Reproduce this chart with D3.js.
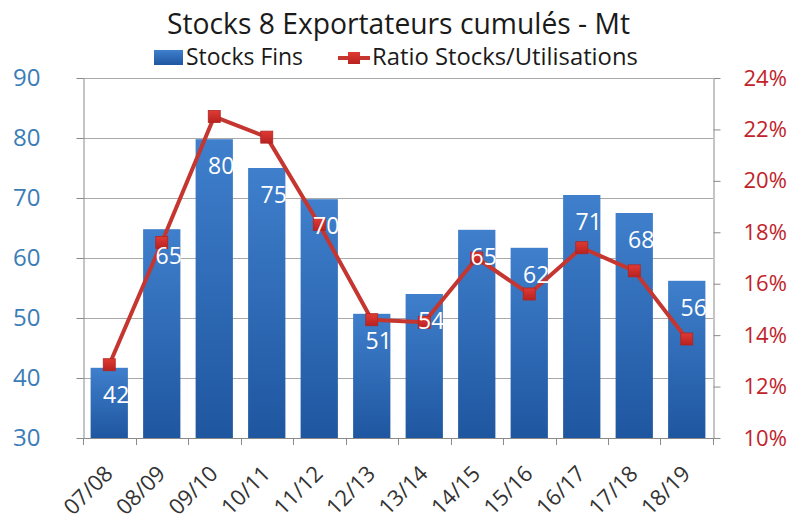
<!DOCTYPE html>
<html><head><meta charset="utf-8">
<script src="https://cdn.jsdelivr.net/npm/d3@7/dist/d3.min.js"></script>
<style>
html,body{margin:0;padding:0;background:#fff;}
svg text{font-family:"Open Sans",sans-serif;}
</style></head>
<body><svg id="c" width="795" height="520"></svg>
<script>
const categories = ["07/08","08/09","09/10","10/11","11/12","12/13","13/14","14/15","15/16","16/17","17/18","18/19"];
const stocksFins = [41.7, 64.8, 79.8, 75.0, 69.8, 50.7, 54.0, 64.7, 61.7, 70.5, 67.5, 56.2];
const ratio = [12.85, 17.6, 22.5, 21.7, 18.3, 14.6, 14.5, 17.0, 15.6, 17.4, 16.5, 13.85];
const leftTicks = [30,40,50,60,70,80,90];
const rightTicks = [10,12,14,16,18,20,22,24];
const title = "Stocks 8 Exportateurs cumulés - Mt";
const legendLabels = ["Stocks Fins","Ratio Stocks/Utilisations"];

const svg = d3.select("#c");
const L = 83, R = 713, T = 78, B = 438;

const x = d3.scaleBand().domain(categories).range([L, R]).paddingInner(0.29).paddingOuter(0.145);
const xb = d3.scaleLinear().domain([0, categories.length]).range([L, R]);
const yL = d3.scaleLinear().domain([30, 90]).range([B, T]);
const yR = d3.scaleLinear().domain([10, 24]).range([B, T]);

const defs = svg.append("defs");
const g1 = defs.append("linearGradient").attr("id","barg").attr("x1",0).attr("y1",0).attr("x2",0).attr("y2",1);
g1.append("stop").attr("offset","0%").attr("stop-color","#3f7fcc");
g1.append("stop").attr("offset","100%").attr("stop-color","#1f56a0");
const g2 = defs.append("linearGradient").attr("id","mkg").attr("x1",0).attr("y1",0).attr("x2",0).attr("y2",1);
g2.append("stop").attr("offset","0%").attr("stop-color","#e03a34");
g2.append("stop").attr("offset","100%").attr("stop-color","#b82220");

// gridlines
svg.append("g").selectAll("line").data(leftTicks.filter(t => t > 30)).join("line")
  .attr("x1", L).attr("x2", R).attr("y1", d => yL(d)+0.5).attr("y2", d => yL(d)+0.5)
  .attr("stroke", "#a9a9a9").attr("stroke-width", 1);

// bars
svg.append("g").selectAll("rect").data(stocksFins).join("rect")
  .attr("x", (d,i) => x(categories[i])).attr("width", x.bandwidth())
  .attr("y", d => yL(d)).attr("height", d => B - yL(d))
  .attr("fill", "url(#barg)");

// axes (left)
const axL = svg.append("g").attr("transform", `translate(${L+0.5},0)`)
  .call(d3.axisLeft(yL).tickValues(leftTicks).tickSize(7).tickPadding(36).tickSizeOuter(0));
axL.select(".domain").attr("stroke", "#8a8a8a");
axL.selectAll(".tick line").attr("stroke", "#8a8a8a");
axL.selectAll(".tick text").attr("fill", "#3a7db6").style("font-size","24px").attr("font-family","Open Sans");

const axR = svg.append("g").attr("transform", `translate(${R+0.5},0)`)
  .call(d3.axisRight(yR).tickValues(rightTicks).tickSize(7).tickPadding(23).tickSizeOuter(0).tickFormat(d => d + "%"));
axR.select(".domain").attr("stroke", "#8a8a8a");
axR.selectAll(".tick line").attr("stroke", "#8a8a8a");
axR.selectAll(".tick text").attr("fill", "#c1232b").style("font-size","22px").attr("font-family","Open Sans");

// bottom axis line and ticks at band boundaries
svg.append("line").attr("x1", L).attr("x2", R+1).attr("y1", B+0.5).attr("y2", B+0.5).attr("stroke", "#8a8a8a");
svg.append("g").selectAll("line").data(d3.range(categories.length + 1)).join("line")
  .attr("x1", d => Math.round(xb(d))+0.5).attr("x2", d => Math.round(xb(d))+0.5)
  .attr("y1", B).attr("y2", B + 7).attr("stroke", "#8a8a8a");

// x labels
svg.append("g").selectAll("text").data(categories).join("text")
  .attr("transform", d => `translate(${x(d) + x.bandwidth()/2 + 5},${B + 37}) rotate(-45)`)
  .attr("text-anchor", "end")
  .attr("fill", "#333333").style("font-size", "22px")
  .text(d => d);

// line
const line = d3.line().x((d,i) => x(categories[i]) + x.bandwidth()/2).y(d => yR(d));
svg.append("path").datum(ratio).attr("d", line)
  .attr("fill", "none").attr("stroke", "#c4362f").attr("stroke-width", 4).attr("stroke-linejoin","round");
svg.append("g").selectAll("rect").data(ratio).join("rect")
  .attr("x", (d,i) => x(categories[i]) + x.bandwidth()/2 - 6).attr("y", d => yR(d) - 6)
  .attr("width", 12).attr("height", 12).attr("fill", "url(#mkg)").attr("stroke","#b02420").attr("stroke-width",0.8);

// data labels
svg.append("g").selectAll("text").data(stocksFins).join("text")
  .attr("x", (d,i) => x(categories[i]) + x.bandwidth()/2 + 7)
  .attr("y", d => yL(d) + 35)
  .attr("text-anchor", "middle").attr("fill", "#ffffff").style("font-size", "23px")
  .text(d => d3.format(".0f")(d));

// title
function fit(sel, w) {
  const len = sel.node().getComputedTextLength();
  const fs = parseFloat(sel.style("font-size"));
  sel.style("font-size", (fs * w / len) + "px");
}
const tt = svg.append("text").attr("x", 398.5).attr("y", 34).attr("text-anchor", "middle")
  .attr("fill", "#1a1a1a").style("font-size", "26px").text(title);
fit(tt, 463);

// legend
const lg = svg.append("g");
lg.append("rect").attr("x", 154).attr("y", 50).attr("width", 29).attr("height", 15).attr("fill", "url(#barg)");
const t1 = lg.append("text").attr("x", 186).attr("y", 65).attr("fill", "#1a1a1a").style("font-size", "20px").text(legendLabels[0]);
fit(t1, 117);
lg.append("line").attr("x1", 338).attr("x2", 370).attr("y1", 58).attr("y2", 58).attr("stroke", "#c4362f").attr("stroke-width", 4);
lg.append("rect").attr("x", 348).attr("y", 52).attr("width", 12).attr("height", 12).attr("fill", "url(#mkg)");
const t2 = lg.append("text").attr("x", 372).attr("y", 65).attr("fill", "#1a1a1a").style("font-size", "20px").text(legendLabels[1]);
fit(t2, 266);
</script></body></html>
